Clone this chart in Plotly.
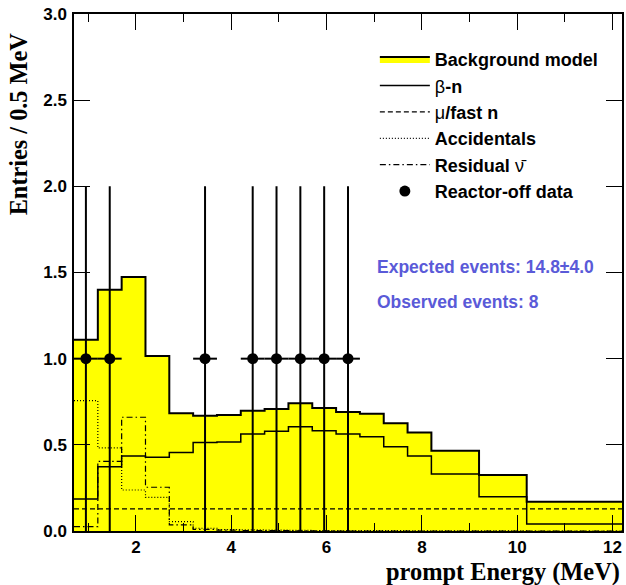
import plotly.graph_objects as go

# ---- data ----
bin_edges = [0.7, 1.2, 1.7, 2.2, 2.7, 3.2, 3.7, 4.2, 4.7, 5.2, 5.7, 6.2, 6.7,
             7.2, 7.7, 8.2, 9.2, 10.2, 12.2]
background_model = [1.110, 1.400, 1.474, 1.016, 0.683, 0.669, 0.673, 0.698, 0.708,
                    0.741, 0.714, 0.691, 0.681, 0.625, 0.571, 0.466, 0.325, 0.170]
beta_n = [0.186, 0.373, 0.435, 0.428, 0.455, 0.513, 0.517, 0.563, 0.579,
          0.605, 0.582, 0.563, 0.547, 0.489, 0.435, 0.331, 0.199, 0.041]
mu_fast_n = [0.128, 0.128, 0.128, 0.128, 0.128, 0.128, 0.128, 0.128, 0.128,
             0.128, 0.128, 0.128, 0.128, 0.128, 0.128, 0.128, 0.128, 0.128]
accidentals = [0.756, 0.482, 0.238, 0.195, 0.054, 0.016, 0.008, 0.006, 0.005,
               0.004, 0.003, 0.003, 0.002, 0.002, 0.001, 0.001, 0.001, 0.000]
residual_nubar = [0.025, 0.404, 0.660, 0.254, 0.035, 0.010, 0.005, 0.003, 0.002,
                  0.001, 0.001, 0.000, 0.000, 0.000, 0.000, 0.000, 0.000, 0.000]

data_energy = [0.95, 1.45, 3.45, 4.45, 4.95, 5.45, 5.95, 6.45]
data_entries = [1, 1, 1, 1, 1, 1, 1, 1]
data_err = [1, 1, 1, 1, 1, 1, 1, 1]
data_xerr = [0.25, 0.25, 0.25, 0.25, 0.25, 0.25, 0.25, 0.25]

expected_text = "Expected events: 14.8±4.0"
observed_text = "Observed events: 8"

SANS = "Liberation Sans"
SERIF = "Liberation Serif"


def step_y(vals):
    return list(vals) + [vals[-1]]


fig = go.Figure()

fig.add_trace(go.Scatter(
    x=bin_edges, y=step_y(background_model), mode="lines", line_shape="hv",
    line=dict(color="black", width=2), fill="tozeroy", fillcolor="#ffff00",
    name="Background model", legendgroup="a"))

fig.add_trace(go.Scatter(
    x=bin_edges, y=step_y(beta_n), mode="lines", line_shape="hv",
    line=dict(color="black", width=1.5),
    name="<span style='font-weight:normal'>β</span>-n", legendgroup="b"))

fig.add_trace(go.Scatter(
    x=bin_edges, y=step_y(mu_fast_n), mode="lines", line_shape="hv",
    line=dict(color="black", width=1.2, dash="5px,3px"),
    name="<span style='font-weight:normal'>μ</span>/fast n", legendgroup="c"))

fig.add_trace(go.Scatter(
    x=bin_edges, y=step_y(accidentals), mode="lines", line_shape="hv",
    line=dict(color="black", width=1.2, dash="1px,2px"),
    name="Accidentals", legendgroup="d"))

fig.add_trace(go.Scatter(
    x=bin_edges, y=step_y(residual_nubar), mode="lines", line_shape="hv",
    line=dict(color="black", width=1.2, dash="6px,3px,1.5px,3px"),
    name="Residual <span style='font-weight:normal'>ν\u0304</span>", legendgroup="e"))

fig.add_trace(go.Scatter(
    x=data_energy, y=data_entries, mode="markers",
    marker=dict(color="black", size=11, symbol="circle"),
    error_y=dict(type="data", array=data_err, color="black", thickness=2, width=0),
    error_x=dict(type="data", array=data_xerr, color="black", thickness=2, width=0),
    name="Reactor-off data", legendgroup="f"))

tickfont = dict(family=SANS, size=17, color="black", weight="bold")

fig.update_layout(
    width=626, height=585,
    margin=dict(l=74, r=2, t=14, b=54),
    paper_bgcolor="white", plot_bgcolor="white",
    showlegend=True,
    legend=dict(x=0.549, y=0.948, xanchor="left", yanchor="top",
                bgcolor="rgba(0,0,0,0)", borderwidth=0,
                font=dict(family=SANS, size=18, color="black", weight="bold"),
                itemwidth=50, tracegroupgap=0),
    xaxis=dict(range=[0.7, 12.2], showgrid=False, zeroline=False,
               showline=True, linecolor="black", linewidth=1.5, mirror="allticks",
               ticks="inside", ticklen=16, tickwidth=1, tickcolor="black",
               dtick=2, tick0=0, tickfont=tickfont, ticklabelstandoff=0,
               minor=dict(dtick=1, tick0=0, ticks="inside", ticklen=8,
                          tickwidth=1, tickcolor="black", showgrid=False)),
    yaxis=dict(range=[0, 3], showgrid=False, zeroline=False,
               showline=True, linecolor="black", linewidth=1.5, mirror="allticks",
               ticks="inside", ticklen=16, tickwidth=1, tickcolor="black",
               dtick=0.5, tick0=0, tickformat=".1f", tickfont=tickfont,
               ticklabelstandoff=2),
    annotations=[
        dict(text="Entries / 0.5 MeV", xref="paper", yref="paper",
             x=-0.1018, y=0.787, xanchor="center", yanchor="middle",
             textangle=-90, showarrow=False,
             font=dict(family=SERIF, size=24.3, color="black", weight="bold")),
        dict(text="prompt Energy (MeV)", xref="paper", yref="paper",
             x=1.0, y=-0.0793, xanchor="right", yanchor="middle",
             showarrow=False,
             font=dict(family=SERIF, size=24.4, color="black", weight="bold")),
        dict(text=expected_text, xref="paper", yref="paper",
             x=0.549, y=0.511, xanchor="left", yanchor="middle", showarrow=False,
             font=dict(family=SANS, size=17.5, color="#5a5ad8", weight="bold")),
        dict(text=observed_text, xref="paper", yref="paper",
             x=0.549, y=0.4435, xanchor="left", yanchor="middle", showarrow=False,
             font=dict(family=SANS, size=17.5, color="#5a5ad8", weight="bold")),
    ],
)

fig.write_html("out.html")
